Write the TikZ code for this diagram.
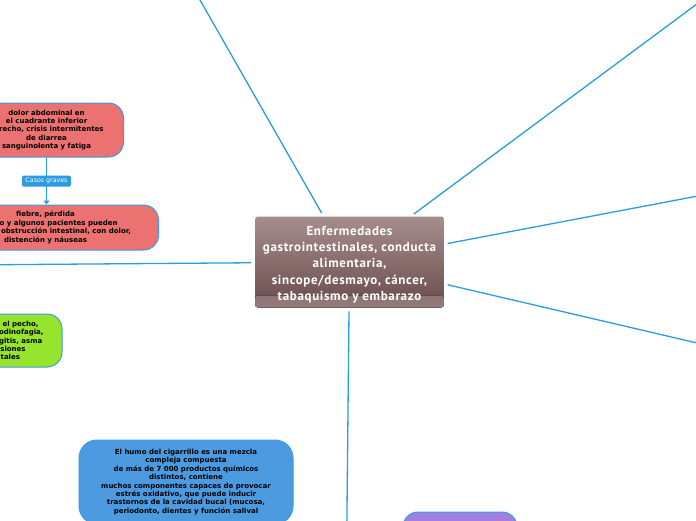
\documentclass[tikz,border=0pt]{standalone}
\usepackage{fontspec}
\setmainfont{DejaVu Sans}
\newfontfamily\hubfont[LetterSpace=5]{PT Sans}
\usetikzlibrary{arrows.meta,positioning,calc}
\definecolor{wire}{HTML}{2A9DE2}
\definecolor{edgeblue}{HTML}{3A9CE4}
\definecolor{salmon}{HTML}{EC7171}
\definecolor{lime}{HTML}{97E42F}
\definecolor{skyfill}{HTML}{4C9BE1}
\definecolor{lilac}{HTML}{A07FE0}
\definecolor{hubtop}{HTML}{A68E8E}
\definecolor{hubbot}{HTML}{694C4A}
\definecolor{hubglow}{HTML}{937B7B}
\definecolor{tagblue}{HTML}{2C9BE0}
\tikzset{
  mind map/.style={
    x=1pt,
    y=-1pt,
    line cap=round,
    line join=round
  },
  hubbox/.style={
    rounded corners=3pt,
    top color=hubtop,
    bottom color=hubbot,
    path picture={
      \fill[top color=hubbot, bottom color=hubglow]
        ($(path picture bounding box.south west)+(0,-12)$) rectangle (path picture bounding box.south east);
    },
    text=white,
    align=center,
    font=\hubfont\bfseries\fontsize{13}{16.3}\selectfont,
    minimum width=189pt,
    minimum height=91pt,
    inner sep=0pt
  },
  leafbox/.style={
    draw=edgeblue,
    line width=1pt,
    rounded corners=15pt,
    align=center,
    text=black,
    font=\bfseries\fontsize{7}{8.4}\selectfont,
    inner sep=0pt
  },
  redbox/.style={leafbox, fill=salmon},
  greenbox/.style={leafbox, fill=lime},
  skybox/.style={leafbox, fill=skyfill, rounded corners=18pt},
  lilacbox/.style={leafbox, fill=lilac},
  tagbox/.style={
    fill=tagblue,
    text=white,
    rounded corners=1.5pt,
    font=\fontsize{6.3}{7}\selectfont,
    minimum width=49pt,
    minimum height=11pt,
    inner sep=1pt
  },
  branch/.style={draw=wire, line width=1.3pt, shorten <=4pt},
  subarrow/.style={-{Triangle[width=6pt,length=4pt]}, draw=wire, line width=1.2pt}
}
\begin{document}
\begin{tikzpicture}[mind map]
\useasboundingbox (0,0) rectangle (696,520);
\fill[white] (0,0) rectangle (696,520);
\clip (0,0) rectangle (696,520);
% free ends of the main branches
\coordinate (offNW) at (180,-35);
\coordinate (offNE) at (740,-28);
\coordinate (offE1) at (740,188);
\coordinate (offE2) at (740,353);
\coordinate (offW) at (-40,265);
\coordinate (offS) at (346.5,560);
\node[hubbox] (hub) at (349.5,262) {\rule{0pt}{14.5pt}Enfermedades\\gastrointestinales, conducta\\alimentaria,\\sincope/desmayo, cáncer,\\tabaquismo y embarazo};
\node[redbox, minimum width=154pt, minimum height=54pt] (crohn) at (46.5,130) {dolor abdominal en\\el cuadrante inferior\\derecho, crisis intermitentes\\de diarrea\\sanguinolenta y fatiga};
\node[redbox, below=47pt of crohn, minimum width=226pt, minimum height=45pt, xshift=-1pt] (severe) {fiebre, pérdida\\de peso y algunos pacientes pueden\\presentar obstrucción intestinal, con dolor,\\distención y náuseas};
\node[greenbox, minimum width=118pt, minimum height=53pt] (reflux) at (3,340.5) {dolor en el pecho,\\disfagia, odinofagia,\\tos, laringitis, asma\\y erosiones\\dentales};
\node[skybox, minimum width=214pt, minimum height=84pt] (smoke) at (186,482) {El humo del cigarrillo es una mezcla\\compleja compuesta\\de más de 7 000 productos químicos\\distintos, contiene\\muchos componentes capaces de provocar\\estrés oxidativo, que puede inducir\\trastornos de la cavidad bucal (mucosa,\\periodonto, dientes y función salival};
\node[lilacbox, minimum width=114pt, minimum height=40pt] (pregnancy) at (460,532) {};
\draw[branch] (hub) -- (offNW);
\draw[branch] (hub) -- (offNE);
\draw[branch] (hub) -- (offE1);
\draw[branch] (hub) -- (offE2);
\draw[branch] (hub) -- (offW);
\draw[branch] (hub) -- (offS);
\draw[subarrow] (crohn.south) -- (crohn.south |- severe.north) node[midway, tagbox] (grave) {Casos graves};
\end{tikzpicture}
\end{document}
